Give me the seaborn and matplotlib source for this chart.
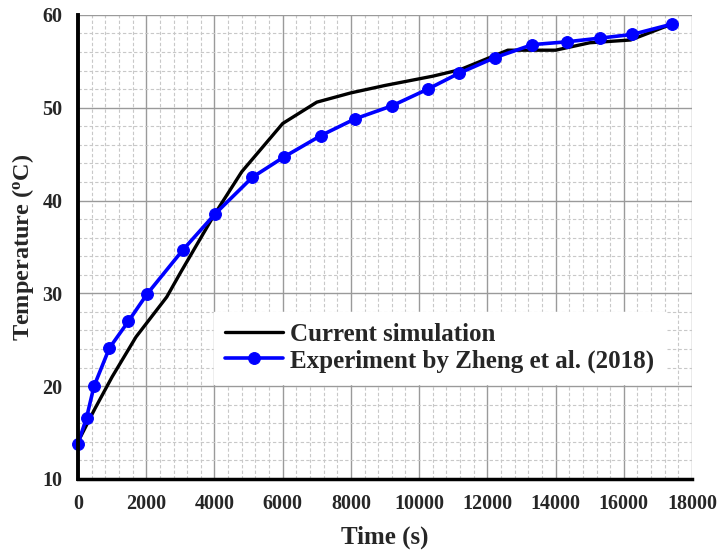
import numpy as np
import pandas as pd
import matplotlib
matplotlib.use("Agg")
import matplotlib.pyplot as plt
import seaborn as sns
from matplotlib.ticker import MultipleLocator

# simulation curve
sim_time = [0, 500, 1000, 1700, 2600, 3000, 4000, 4800, 6000, 7000, 8000,
            9000, 10400, 11200, 12000, 12600, 14000, 15000, 16200, 17400]
sim_temp = [14.0, 17.6, 21.0, 25.3, 29.6, 32.2, 38.5, 43.1, 48.3, 50.6, 51.6,
            52.4, 53.4, 54.1, 55.3, 56.2, 56.2, 57.0, 57.3, 59.0]

# experiment points (Zheng et al. 2018)
exp_time = [0, 250, 470, 920, 1480, 2020, 3080, 4030, 5110, 6040, 7120,
            8120, 9200, 10250, 11160, 12220, 13320, 14320, 15300, 16250, 17400]
exp_temp = [13.8, 16.6, 20.0, 24.1, 27.0, 29.9, 34.7, 38.6, 42.5, 44.7, 47.0,
            48.8, 50.2, 52.0, 53.7, 55.4, 56.8, 57.1, 57.5, 57.9, 59.0]

sim = pd.DataFrame({"Time": sim_time, "Temp": sim_temp})
exp = pd.DataFrame({"Time": exp_time, "Temp": exp_temp})

sns.set_style("white")
plt.rcParams["font.family"] = ["Liberation Serif", "DejaVu Serif"]
plt.rcParams["font.weight"] = "bold"
plt.rcParams["mathtext.default"] = "regular"

fig = plt.figure(figsize=(7.19, 5.53), dpi=100)
ax = fig.add_axes([0.1085, 0.134, 0.854, 0.839])

sns.lineplot(data=sim, x="Time", y="Temp", color="black", linewidth=2.4,
             label="Current simulation", ax=ax, sort=False, clip_on=False)
sns.lineplot(data=exp, x="Time", y="Temp", color="#0000ff", linewidth=2.6,
             marker="o", markersize=8.5, markeredgecolor="#0000ff",
             label="Experiment by Zheng et al. (2018)", ax=ax, sort=False,
             clip_on=False)

ax.set_xlim(0, 18000)
ax.set_ylim(10, 60)
ax.xaxis.set_major_locator(MultipleLocator(2000))
ax.xaxis.set_minor_locator(MultipleLocator(400))
ax.yaxis.set_major_locator(MultipleLocator(10))
ax.yaxis.set_minor_locator(MultipleLocator(2))
ax.grid(which="major", color="#9a9a9a", linewidth=1.0, linestyle="-")
ax.grid(which="minor", color="#c8c8c8", linewidth=0.8, linestyle=(0, (3, 2)))
ax.set_axisbelow(True)

for s in ["top", "right"]:
    ax.spines[s].set_visible(False)
ax.spines["left"].set_linewidth(2.8)
ax.spines["bottom"].set_linewidth(2.5)
ax.spines["left"].set_color("black")
ax.spines["bottom"].set_color("black")

ax.tick_params(which="both", length=0, labelsize=14.5)
ax.tick_params(axis="x", pad=11)
ax.tick_params(axis="y", pad=11)
for lab in ax.get_xticklabels() + ax.get_yticklabels():
    lab.set_fontweight("bold")

ax.set_xlabel("Time (s)", fontsize=18, fontweight="bold", labelpad=8)
ax.set_ylabel("Temperature ($^{o}$C)", fontsize=17.5, fontweight="bold", labelpad=5)

leg = ax.legend(loc="upper left", bbox_to_anchor=(0.2215, 0.36), frameon=True,
                fancybox=False, edgecolor="white", framealpha=1.0,
                prop={"family": "Liberation Serif", "weight": "bold", "size": 18},
                handlelength=2.3, handletextpad=0.3, borderpad=0.45,
                labelspacing=0.12, borderaxespad=0)

fig.savefig("out.png", dpi=100)
